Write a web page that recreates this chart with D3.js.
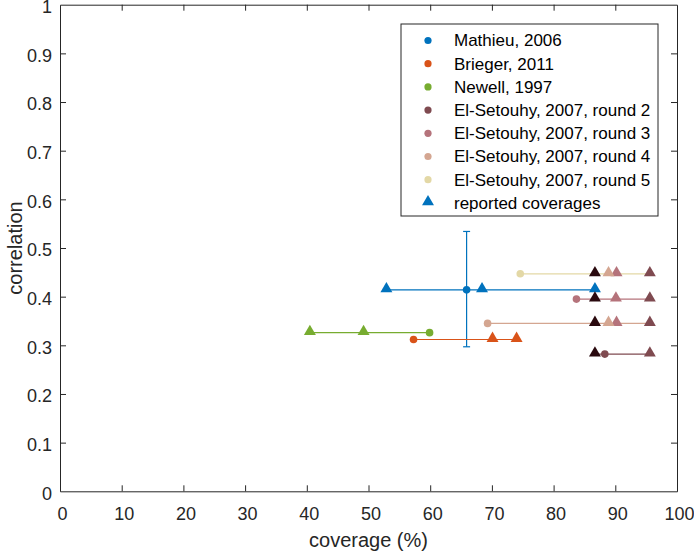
<!DOCTYPE html>
<html>
<head>
<meta charset="utf-8">
<script src="https://cdn.jsdelivr.net/npm/d3@7/dist/d3.min.js"></script>
<style>
  html, body { margin: 0; padding: 0; background: #fff; }
  svg { display: block; font-family: "Liberation Sans", Arial, Helvetica, sans-serif; }
</style>
</head>
<body>
<svg id="chart" width="694" height="552"></svg>
<script>
// ---- data ----
const seriesNames = [
  "Mathieu, 2006",
  "Brieger, 2011",
  "Newell, 1997",
  "El-Setouhy, 2007, round 2",
  "El-Setouhy, 2007, round 3",
  "El-Setouhy, 2007, round 4",
  "El-Setouhy, 2007, round 5"
];
const seriesColors = ["#0072BD", "#D95319", "#77AC30", "#7f4a50", "#b5737b", "#d4a691", "#e3d8a6"];
const estCoverage = [65.9, 57.3, 59.9, 88.3, 83.7, 69.3, 74.6];
const correlation = [0.414, 0.312, 0.326, 0.282, 0.395, 0.345, 0.447];
// error bar (Mathieu only)
const errSeries = 0;
const errLow = 0.297;
const errHigh = 0.534;
// reported coverages per series: values and colour index (-1 = dark round-1 colour)
const reportedX = [
  [52.9, 68.4, 86.7],
  [70.1, 74.0],
  [40.5, 49.2],
  [86.7, 95.6],
  [86.7, 95.6, 90.1],
  [86.7, 95.6, 90.2, 88.9],
  [86.7, 95.6, 90.2, 88.9]
];
const reportedColorIdx = [
  [0, 0, 0],
  [1, 1],
  [2, 2],
  [-1, 3],
  [-1, 3, 4],
  [-1, 3, 4, 5],
  [-1, 3, 4, 5]
];
const round1Color = "#2a0a0f";
const xTicks = [0, 10, 20, 30, 40, 50, 60, 70, 80, 90, 100];
const yTicks = [0, 0.1, 0.2, 0.3, 0.4, 0.5, 0.6, 0.7, 0.8, 0.9, 1];
const xLabel = "coverage (%)";
const yLabel = "correlation";
const legendExtra = "reported coverages";

// ---- layout ----
const svg = d3.select("#chart");
const pLeft = 60, pRight = 677, pTop = 4.7, pBottom = 491.3;
const axisColor = "#262626";
const x = d3.scaleLinear().domain([0, 100]).range([pLeft, pRight]);
const y = d3.scaleLinear().domain([0, 1]).range([pBottom, pTop]);
const fmtY = d => String(+d.toFixed(1));
const tickLen = 6;
const tickFont = 18;

// axes
const gx = svg.append("g").attr("transform", `translate(0,${pBottom})`)
  .call(d3.axisBottom(x).tickValues(xTicks).tickSizeInner(-tickLen).tickSizeOuter(0).tickPadding(16));
const gxt = svg.append("g").attr("transform", `translate(0,${pTop})`)
  .call(d3.axisTop(x).tickValues(xTicks).tickSizeInner(-tickLen).tickSizeOuter(0).tickFormat(""));
const gy = svg.append("g").attr("transform", `translate(${pLeft},0)`)
  .call(d3.axisLeft(y).tickValues(yTicks).tickFormat(fmtY).tickSizeInner(-tickLen).tickSizeOuter(0).tickPadding(8));
const gyr = svg.append("g").attr("transform", `translate(${pRight},0)`)
  .call(d3.axisRight(y).tickValues(yTicks).tickSizeInner(-tickLen).tickSizeOuter(0).tickFormat(""));
[gx, gxt, gy, gyr].forEach(g => {
  g.selectAll("path.domain").attr("stroke", axisColor).attr("stroke-width", 1);
  g.selectAll(".tick line").attr("stroke", axisColor).attr("stroke-width", 1);
  g.selectAll(".tick text").attr("fill", axisColor).attr("font-size", tickFont)
    .attr("font-family", "Liberation Sans, Arial, sans-serif");
});
gx.selectAll(".tick text").attr("dx", 2);
gy.selectAll(".tick text").attr("transform", "translate(0,2)");
[gx, gxt].forEach(g => g.selectAll(".tick line").filter(d => d === 0 || d === 100).remove());
[gy, gyr].forEach(g => g.selectAll(".tick line").filter(d => d === 0 || d === 1).remove());

svg.append("text").attr("x", (pLeft + pRight) / 2).attr("y", 547)
  .attr("text-anchor", "middle").attr("font-size", 20).attr("fill", axisColor).text(xLabel);
svg.append("text").attr("transform", `translate(22,${(pTop + pBottom) / 2}) rotate(-90)`)
  .attr("text-anchor", "middle").attr("font-size", 20).attr("fill", axisColor).text(yLabel);

const tri = d3.symbol().type(d3.symbolTriangle).size(62);
const plot = svg.append("g");

seriesNames.forEach((name, i) => {
  const col = seriesColors[i];
  const xs = [estCoverage[i], ...reportedX[i]];
  plot.append("line")
    .attr("x1", x(d3.min(xs))).attr("x2", x(d3.max(xs)))
    .attr("y1", y(correlation[i])).attr("y2", y(correlation[i]))
    .attr("stroke", col).attr("stroke-width", 1.2);
  if (i === errSeries) {
    const cx = x(estCoverage[i]);
    plot.append("line").attr("x1", cx).attr("x2", cx).attr("y1", y(errLow)).attr("y2", y(errHigh))
      .attr("stroke", col).attr("stroke-width", 1.2);
    [errLow, errHigh].forEach(v => plot.append("line")
      .attr("x1", cx - 3.5).attr("x2", cx + 3.5).attr("y1", y(v)).attr("y2", y(v))
      .attr("stroke", col).attr("stroke-width", 1.2));
  }
  reportedX[i].forEach((v, k) => {
    const ci = reportedColorIdx[i][k];
    plot.append("path").attr("d", tri)
      .attr("transform", `translate(${x(v)},${y(correlation[i]) - 1})`)
      .attr("fill", ci < 0 ? round1Color : seriesColors[ci]);
  });
  plot.append("circle").attr("cx", x(estCoverage[i])).attr("cy", y(correlation[i]))
    .attr("r", 3.8).attr("fill", col);
});

// legend
const lg = svg.append("g");
const lx0 = 401, ly0 = 24, lx1 = 658, ly1 = 216;
lg.append("rect").attr("x", lx0).attr("y", ly0).attr("width", lx1 - lx0).attr("height", ly1 - ly0)
  .attr("fill", "#fff").attr("stroke", axisColor).attr("stroke-width", 1);
const rowY = i => 40.5 + i * 23.2;
seriesNames.forEach((name, i) => {
  lg.append("circle").attr("cx", 428).attr("cy", rowY(i)).attr("r", 3.6).attr("fill", seriesColors[i]);
  lg.append("text").attr("x", 454).attr("y", rowY(i)).attr("dy", "0.35em")
    .attr("font-size", 17).attr("fill", "#000").text(name);
});
lg.append("path").attr("d", tri).attr("transform", `translate(428,${rowY(7) - 1})`).attr("fill", seriesColors[0]);
lg.append("text").attr("x", 454).attr("y", rowY(7)).attr("dy", "0.35em")
  .attr("font-size", 17).attr("fill", "#000").text(legendExtra);
</script>
</body>
</html>
